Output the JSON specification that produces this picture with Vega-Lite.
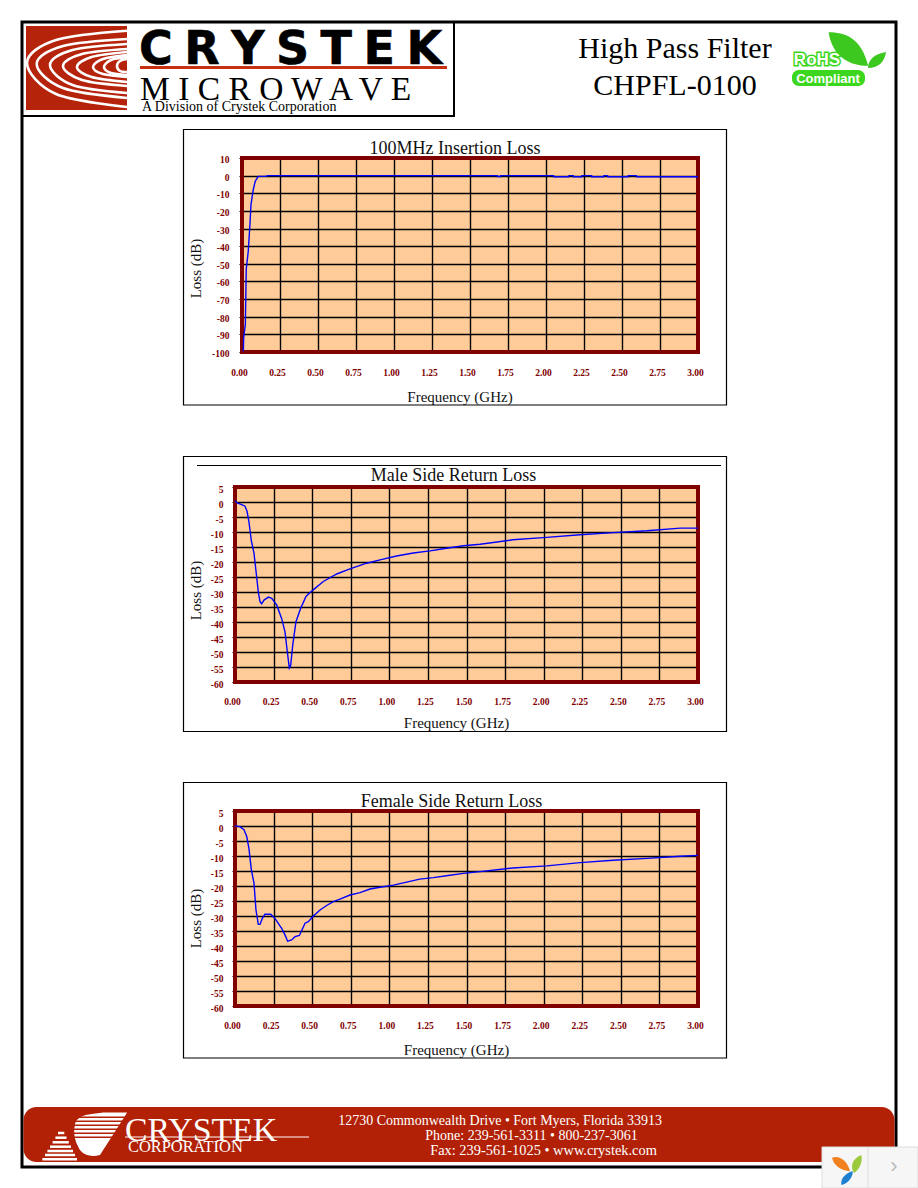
{"$schema":"https://vega.github.io/schema/vega-lite/v6.json","padding":0,"background":"white","bounds":"flush","spacing":0,"columns":2,"align":"each","config":{"view":{"stroke":null},"axis":{"labelFont":"Liberation Serif","labelFontWeight":"bold","labelFontSize":9.5,"labelColor":"#800000","titleFont":"Liberation Serif","titleFontWeight":"normal","titleFontSize":15,"titleColor":"#111111","grid":true,"gridColor":"#000000","gridWidth":1.4,"gridOpacity":1,"domain":false,"tickColor":"#000000","labelFlush":false,"labelOverlap":false},"title":{"font":"Liberation Serif","fontWeight":"normal","fontSize":18,"color":"#111111","anchor":"middle"}},"datasets":{"insertion":[{"f":0.009,"db":-99.6},{"f":0.011,"db":-92},{"f":0.015,"db":-89},{"f":0.022,"db":-84.5},{"f":0.028,"db":-53},{"f":0.041,"db":-43},{"f":0.052,"db":-28},{"f":0.059,"db":-16.5},{"f":0.074,"db":-8},{"f":0.087,"db":-3.2},{"f":0.107,"db":-0.4},{"f":0.161,"db":-0.4},{"f":0.165,"db":0},{"f":1.68,"db":0},{"f":1.681,"db":-0.5},{"f":1.70,"db":-0.5},{"f":1.701,"db":0},{"f":2.05,"db":0},{"f":2.051,"db":-0.6},{"f":2.15,"db":-0.6},{"f":2.151,"db":0},{"f":2.18,"db":0},{"f":2.181,"db":-0.6},{"f":2.235,"db":-0.6},{"f":2.236,"db":0},{"f":2.30,"db":0},{"f":2.301,"db":-0.6},{"f":2.38,"db":-0.6},{"f":2.381,"db":0},{"f":2.405,"db":0},{"f":2.406,"db":-0.6},{"f":2.54,"db":-0.6},{"f":2.541,"db":0},{"f":2.595,"db":0},{"f":2.596,"db":-0.6},{"f":3.0,"db":-0.6}],"male":[{"f":0,"db":0.4},{"f":0.015,"db":-0.3},{"f":0.043,"db":-0.9},{"f":0.065,"db":-1.4},{"f":0.078,"db":-3.1},{"f":0.09,"db":-6.5},{"f":0.106,"db":-13},{"f":0.123,"db":-17},{"f":0.136,"db":-23},{"f":0.151,"db":-30},{"f":0.162,"db":-33.2},{"f":0.173,"db":-33.9},{"f":0.188,"db":-32.7},{"f":0.216,"db":-31.7},{"f":0.238,"db":-32.1},{"f":0.27,"db":-34.3},{"f":0.302,"db":-38.8},{"f":0.324,"db":-43.3},{"f":0.339,"db":-50},{"f":0.352,"db":-55.3},{"f":0.361,"db":-54.4},{"f":0.374,"db":-47.7},{"f":0.395,"db":-39.9},{"f":0.425,"db":-35.5},{"f":0.46,"db":-31.5},{"f":0.497,"db":-29.7},{"f":0.572,"db":-26.5},{"f":0.659,"db":-24},{"f":0.745,"db":-22.3},{"f":0.853,"db":-20.4},{"f":0.94,"db":-19.3},{"f":1.047,"db":-18},{"f":1.155,"db":-17},{"f":1.264,"db":-16.3},{"f":1.37,"db":-15.4},{"f":1.48,"db":-14.6},{"f":1.588,"db":-14.1},{"f":1.80,"db":-12.6},{"f":2.02,"db":-11.8},{"f":2.236,"db":-10.9},{"f":2.45,"db":-10.2},{"f":2.67,"db":-9.6},{"f":2.885,"db":-8.7},{"f":3.0,"db":-8.7}],"female":[{"f":0,"db":0},{"f":0.032,"db":-0.2},{"f":0.058,"db":-1.2},{"f":0.076,"db":-3.5},{"f":0.09,"db":-7.4},{"f":0.106,"db":-14.6},{"f":0.123,"db":-19},{"f":0.136,"db":-28},{"f":0.151,"db":-32.8},{"f":0.162,"db":-32.8},{"f":0.177,"db":-30.8},{"f":0.194,"db":-29.4},{"f":0.231,"db":-29.4},{"f":0.259,"db":-30.8},{"f":0.302,"db":-34.1},{"f":0.324,"db":-36.3},{"f":0.341,"db":-38.4},{"f":0.367,"db":-38},{"f":0.389,"db":-36.9},{"f":0.417,"db":-36.5},{"f":0.454,"db":-32.4},{"f":0.475,"db":-31.9},{"f":0.508,"db":-30},{"f":0.551,"db":-28},{"f":0.594,"db":-26.5},{"f":0.637,"db":-25.2},{"f":0.68,"db":-24.4},{"f":0.745,"db":-23},{"f":0.81,"db":-22.2},{"f":0.875,"db":-21},{"f":0.94,"db":-20.4},{"f":1.026,"db":-19.7},{"f":1.112,"db":-18.7},{"f":1.197,"db":-17.7},{"f":1.285,"db":-17.2},{"f":1.37,"db":-16.6},{"f":1.48,"db":-15.8},{"f":1.588,"db":-15.2},{"f":1.80,"db":-14},{"f":2.02,"db":-13.3},{"f":2.236,"db":-12.2},{"f":2.45,"db":-11.4},{"f":2.67,"db":-10.8},{"f":2.885,"db":-10.1},{"f":3.0,"db":-9.8}],"swoosh":[{"b":1,"i":0,"px":127,"py":30.7},{"b":1,"i":1,"px":56,"py":40},{"b":1,"i":2,"px":27,"py":63},{"b":1,"i":3,"px":56,"py":94},{"b":1,"i":4,"px":127,"py":107},{"b":2,"i":0,"px":127,"py":39},{"b":2,"i":1,"px":63,"py":46},{"b":2,"i":2,"px":36.7,"py":64},{"b":2,"i":3,"px":63,"py":88},{"b":2,"i":4,"px":127,"py":98},{"b":3,"i":0,"px":127,"py":44},{"b":3,"i":1,"px":72.6,"py":50},{"b":3,"i":2,"px":50,"py":65},{"b":3,"i":3,"px":72.6,"py":85},{"b":3,"i":4,"px":127,"py":93},{"b":4,"i":0,"px":127,"py":49},{"b":4,"i":1,"px":82,"py":54},{"b":4,"i":2,"px":63,"py":66},{"b":4,"i":3,"px":82,"py":80},{"b":4,"i":4,"px":127,"py":86},{"b":5,"i":0,"px":127,"py":52},{"b":5,"i":1,"px":91.6,"py":57},{"b":5,"i":2,"px":77,"py":67},{"b":5,"i":3,"px":91.6,"py":77},{"b":5,"i":4,"px":127,"py":82},{"b":6,"i":0,"px":127,"py":55},{"b":6,"i":1,"px":103,"py":59},{"b":6,"i":2,"px":93,"py":67},{"b":6,"i":3,"px":103,"py":74},{"b":6,"i":4,"px":127,"py":77},{"b":7,"i":0,"px":127,"py":57},{"b":7,"i":1,"px":111,"py":60},{"b":7,"i":2,"px":104,"py":67},{"b":7,"i":3,"px":111,"py":73},{"b":7,"i":4,"px":127,"py":75},{"b":8,"i":0,"px":127,"py":59},{"b":8,"i":1,"px":120,"py":61},{"b":8,"i":2,"px":117,"py":66},{"b":8,"i":3,"px":120,"py":71},{"b":8,"i":4,"px":127,"py":72}],"triStripes":[{"a":58,"c":64.3,"py":1133},{"a":55.4,"c":66.5,"py":1137.7},{"a":52.6,"c":68.8,"py":1142.3},{"a":50,"c":71,"py":1146.7},{"a":47.4,"c":73,"py":1151},{"a":45,"c":75,"py":1155},{"a":42.4,"c":77,"py":1159.3}],"cutStripes":[{"a":70,"c":130,"py":1117.3},{"a":70,"c":130,"py":1121.3},{"a":70,"c":130,"py":1125.3},{"a":70,"c":130,"py":1129.3},{"a":70,"c":130,"py":1133.3},{"a":70,"c":130,"py":1137.3}]},"concat":[{"width":235,"height":158,"data":{"values":[{}]},"layer":[{"mark":{"type":"rect","fill":"white"},"encoding":{"x":{"datum":0,"type":"quantitative","axis":null,"scale":{"domain":[0,235],"range":[0,235],"nice":false,"zero":false}},"x2":{"datum":918},"y":{"datum":0,"type":"quantitative","axis":null,"scale":{"domain":[0,158],"range":[0,158],"nice":false,"zero":false}},"y2":{"datum":1188}}},{"mark":{"type":"rect","filled":false,"stroke":"#000000","strokeWidth":3},"encoding":{"x":{"datum":22,"axis":null},"x2":{"datum":896},"y":{"datum":22,"axis":null},"y2":{"datum":1167}}},{"mark":{"type":"rule","stroke":"#000000","strokeWidth":2},"encoding":{"x":{"datum":454,"axis":null},"y":{"datum":22,"axis":null},"y2":{"datum":117}}},{"mark":{"type":"rule","stroke":"#000000","strokeWidth":2},"encoding":{"x":{"datum":22,"axis":null},"x2":{"datum":454},"y":{"datum":116,"axis":null}}},{"mark":{"type":"rect","fill":"#B5230A"},"encoding":{"x":{"datum":26,"axis":null},"x2":{"datum":127},"y":{"datum":26,"axis":null},"y2":{"datum":110}}},{"data":{"name":"swoosh"},"mark":{"type":"line","stroke":"#ffffff","strokeWidth":2.6,"interpolate":"cardinal"},"encoding":{"x":{"field":"px","type":"quantitative","axis":null},"y":{"field":"py","type":"quantitative","axis":null},"detail":{"field":"b"},"order":{"field":"i"}}},{"mark":{"type":"text","text":"C\u2005R\u2005Y\u2005S\u2005T\u2005E\u2005K","font":"DejaVu Sans","fontWeight":"bold","fontSize":46,"align":"left","baseline":"alphabetic","fill":"#000000","stroke":"#000000","strokeWidth":0.6},"encoding":{"x":{"datum":139,"axis":null},"y":{"datum":64,"axis":null}}},{"mark":{"type":"rect","fill":"#C8300F"},"encoding":{"x":{"datum":140,"axis":null},"x2":{"datum":447},"y":{"datum":66,"axis":null},"y2":{"datum":69}}},{"mark":{"type":"text","text":"M I C R O W A V E","font":"Liberation Serif","fontSize":33.5,"align":"left","baseline":"alphabetic","fill":"#000000"},"encoding":{"x":{"datum":140,"axis":null},"y":{"datum":100,"axis":null}}},{"mark":{"type":"text","text":"A Division of Crystek Corporation","font":"Liberation Serif","fontSize":14,"align":"left","baseline":"alphabetic","fill":"#000000"},"encoding":{"x":{"datum":142,"axis":null},"y":{"datum":111,"axis":null}}},{"mark":{"type":"text","text":"High Pass Filter","font":"Liberation Serif","fontSize":30,"align":"center","baseline":"alphabetic","fill":"#000000"},"encoding":{"x":{"datum":675,"axis":null},"y":{"datum":58,"axis":null}}},{"mark":{"type":"text","text":"CHPFL-0100","font":"Liberation Serif","fontSize":30,"align":"center","baseline":"alphabetic","fill":"#000000"},"encoding":{"x":{"datum":675,"axis":null},"y":{"datum":95,"axis":null}}},{"mark":{"type":"point","filled":true,"fill":"#3CC81E","opacity":1,"size":2304,"shape":"M-0.85,-0.7 C-0.2,-0.7 0.5,-0.5 0.8,0.7 C0,0.7 -0.7,0.3 -0.85,-0.7 Z"},"encoding":{"x":{"datum":849,"axis":null},"y":{"datum":49,"axis":null}}},{"mark":{"type":"point","filled":true,"fill":"#3CC81E","opacity":1,"size":400,"shape":"M-0.9,0.8 C-0.9,0 -0.3,-0.6 0.9,-0.8 C0.8,0.1 0.2,0.8 -0.9,0.8 Z"},"encoding":{"x":{"datum":877,"axis":null},"y":{"datum":60,"axis":null}}},{"mark":{"type":"text","text":"RoHS","font":"Liberation Sans","fontWeight":"bold","fontSize":17,"align":"center","baseline":"alphabetic","fill":"#ffffff","stroke":"#3CD61E","strokeWidth":3},"encoding":{"x":{"datum":817,"axis":null},"y":{"datum":65,"axis":null}}},{"mark":{"type":"text","text":"RoHS","font":"Liberation Sans","fontWeight":"bold","fontSize":17,"align":"center","baseline":"alphabetic","fill":"#ffffff"},"encoding":{"x":{"datum":817,"axis":null},"y":{"datum":65,"axis":null}}},{"mark":{"type":"rect","fill":"#3CD61E","cornerRadius":7},"encoding":{"x":{"datum":792,"axis":null},"x2":{"datum":865},"y":{"datum":70,"axis":null},"y2":{"datum":86}}},{"mark":{"type":"text","text":"Compliant","font":"Liberation Sans","fontWeight":"bold","fontSize":13,"align":"center","baseline":"alphabetic","fill":"#ffffff"},"encoding":{"x":{"datum":828,"axis":null},"y":{"datum":83,"axis":null}}},{"mark":{"type":"rect","fill":"#ffffff","stroke":"#000000","strokeWidth":1.2},"encoding":{"x":{"datum":183.5,"axis":null},"x2":{"datum":726.5},"y":{"datum":129.5,"axis":null},"y2":{"datum":405}}},{"mark":{"type":"rect","fill":"#FFCC99"},"encoding":{"x":{"datum":242,"axis":null},"x2":{"datum":698},"y":{"datum":158,"axis":null},"y2":{"datum":352}}},{"mark":{"type":"rect","fill":"#ffffff","stroke":"#000000","strokeWidth":1.2},"encoding":{"x":{"datum":183.5,"axis":null},"x2":{"datum":726.5},"y":{"datum":456.5,"axis":null},"y2":{"datum":731.5}}},{"mark":{"type":"rect","fill":"#ffffff","stroke":"#000000","strokeWidth":1.2},"encoding":{"x":{"datum":183.5,"axis":null},"x2":{"datum":726.5},"y":{"datum":782.5,"axis":null},"y2":{"datum":1058}}},{"mark":{"type":"rule","stroke":"#000000","strokeWidth":1},"encoding":{"x":{"datum":197,"axis":null},"x2":{"datum":721},"y":{"datum":465.5,"axis":null}}},{"mark":{"type":"rect","fill":"#B22106","cornerRadius":13},"encoding":{"x":{"datum":23.5,"axis":null},"x2":{"datum":894.5},"y":{"datum":1107,"axis":null},"y2":{"datum":1162}}},{"mark":{"type":"point","filled":true,"fill":"#ffffff","opacity":1,"size":3211,"shape":"M0.96,-0.79 L0,0.71 Q-0.47,0.82 -0.71,0.53 Q-1,0.06 -0.88,-0.41 Q-0.76,-0.71 -0.29,-0.74 L0.12,-0.79 Z"},"encoding":{"x":{"datum":100,"axis":null},"y":{"datum":1135,"axis":null}}},{"data":{"name":"cutStripes"},"mark":{"type":"rule","stroke":"#B22106","strokeWidth":1.6},"encoding":{"x":{"field":"a","type":"quantitative","axis":null},"x2":{"field":"c"},"y":{"field":"py","type":"quantitative","axis":null}}},{"data":{"name":"triStripes"},"mark":{"type":"rule","stroke":"#ffffff","strokeWidth":2.5},"encoding":{"x":{"field":"a","type":"quantitative","axis":null},"x2":{"field":"c"},"y":{"field":"py","type":"quantitative","axis":null}}},{"mark":{"type":"text","text":"CRYSTEK","font":"Liberation Serif","fontSize":33.8,"align":"left","baseline":"alphabetic","fill":"#ffffff"},"encoding":{"x":{"datum":125,"axis":null},"y":{"datum":1141,"axis":null}}},{"mark":{"type":"rule","stroke":"#ffffff","strokeWidth":1},"encoding":{"x":{"datum":125,"axis":null},"x2":{"datum":309},"y":{"datum":1137,"axis":null}}},{"mark":{"type":"text","text":"CORPORATION","font":"Liberation Serif","fontSize":16.4,"align":"left","baseline":"alphabetic","fill":"#ffffff"},"encoding":{"x":{"datum":128,"axis":null},"y":{"datum":1152,"axis":null}}},{"mark":{"type":"text","text":"12730 Commonwealth Drive • Fort Myers, Florida 33913","font":"Liberation Serif","fontSize":14,"align":"center","baseline":"alphabetic","fill":"#ffffff"},"encoding":{"x":{"datum":500,"axis":null},"y":{"datum":1125,"axis":null}}},{"mark":{"type":"text","text":"Phone: 239-561-3311 • 800-237-3061","font":"Liberation Serif","fontSize":14,"align":"center","baseline":"alphabetic","fill":"#ffffff"},"encoding":{"x":{"datum":531.5,"axis":null},"y":{"datum":1140,"axis":null}}},{"mark":{"type":"text","text":"Fax: 239-561-1025 • www.crystek.com","font":"Liberation Serif","fontSize":14.4,"align":"center","baseline":"alphabetic","fill":"#ffffff"},"encoding":{"x":{"datum":543.5,"axis":null},"y":{"datum":1155,"axis":null}}},{"mark":{"type":"rect","fill":"#F6F6F6","stroke":"#DDDDDD","strokeWidth":1},"encoding":{"x":{"datum":822,"axis":null},"x2":{"datum":918},"y":{"datum":1147,"axis":null},"y2":{"datum":1188}}},{"mark":{"type":"rule","stroke":"#DDDDDD","strokeWidth":1},"encoding":{"x":{"datum":868,"axis":null},"y":{"datum":1147,"axis":null},"y2":{"datum":1188}}},{"mark":{"type":"point","filled":true,"fill":"#F08020","opacity":1,"size":324,"shape":"M-1,-0.7 C-0.2,-1 0.7,-0.4 1,0.8 C0,0.7 -0.8,0.2 -1,-0.7 Z"},"encoding":{"x":{"datum":841,"axis":null},"y":{"datum":1164,"axis":null}}},{"mark":{"type":"point","filled":true,"fill":"#9CC83C","opacity":1,"size":324,"shape":"M0.7,-1 C0.9,-0.3 0.5,0.6 -0.1,1 C-0.6,0.3 -0.3,-0.6 0.7,-1 Z"},"encoding":{"x":{"datum":855,"axis":null},"y":{"datum":1164,"axis":null}}},{"mark":{"type":"point","filled":true,"fill":"#2080D0","opacity":1,"size":196,"shape":"M0.8,-1 C0.9,-0.2 0.2,0.8 -0.8,1 C-1,0.1 -0.2,-0.7 0.8,-1 Z"},"encoding":{"x":{"datum":847,"axis":null},"y":{"datum":1178,"axis":null}}},{"mark":{"type":"text","text":"›","font":"Liberation Sans","fontSize":22,"align":"center","baseline":"middle","fill":"#BBBBBB"},"encoding":{"x":{"datum":894,"axis":null},"y":{"datum":1166,"axis":null}}}]},{"width":1,"height":158,"data":{"values":[{}]},"mark":{"type":"point","opacity":0},"encoding":{}},{"width":235,"height":329,"data":{"values":[{}]},"mark":{"type":"point","opacity":0},"encoding":{}},{"width":463,"height":194,"title":{"text":"100MHz Insertion Loss","dx":-11.5,"offset":-3},"data":{"name":"insertion"},"layer":[{"mark":{"type":"rect","filled":false,"stroke":"#800000","strokeWidth":4},"encoding":{"x":{"datum":0,"type":"quantitative","title":"Frequency (GHz)","scale":{"domain":[0,3],"range":[7,463],"nice":false,"zero":false},"axis":{"values":[0,0.25,0.5,0.75,1,1.25,1.5,1.75,2,2.25,2.5,2.75,3],"tickCount":30,"format":".2f","tickSize":0,"labelPadding":15,"labelOffset":-3,"titleX":224.5,"titleY":37.5}},"x2":{"datum":3},"y":{"datum":10,"type":"quantitative","title":"Loss (dB)","scale":{"domain":[-100,10],"nice":false,"zero":false},"axis":{"values":[10,0,-10,-20,-30,-40,-50,-60,-70,-80,-90,-100],"tickCount":30,"labelExpr":"'' + datum.value","offset":-7,"tickSize":3,"labelPadding":10,"labelOffset":1.5,"titleX":-39,"titleY":110}},"y2":{"datum":-100}}},{"mark":{"type":"line","stroke":"#0000FF","strokeWidth":1.4,"interpolate":"linear"},"encoding":{"x":{"field":"f","type":"quantitative","title":"Frequency (GHz)"},"y":{"field":"db","type":"quantitative","title":"Loss (dB)"}}}]},{"width":235,"height":324,"data":{"values":[{}]},"mark":{"type":"point","opacity":0},"encoding":{}},{"width":463,"height":195,"view":{"fill":"#FFCC99","stroke":null},"title":{"text":"Male Side Return Loss","dx":-13,"offset":-1},"data":{"name":"male"},"layer":[{"mark":{"type":"rect","filled":false,"stroke":"#800000","strokeWidth":4},"encoding":{"x":{"datum":0,"type":"quantitative","title":"Frequency (GHz)","scale":{"domain":[0,3],"nice":false,"zero":false},"axis":{"values":[0,0.25,0.5,0.75,1,1.25,1.5,1.75,2,2.25,2.5,2.75,3],"tickCount":30,"format":".2f","tickSize":0,"labelPadding":14,"labelOffset":-3,"titleX":221,"titleY":33.5}},"x2":{"datum":3},"y":{"datum":5,"type":"quantitative","title":"Loss (dB)","scale":{"domain":[-60,5],"nice":false,"zero":false},"axis":{"values":[5,0,-5,-10,-15,-20,-25,-30,-35,-40,-45,-50,-55,-60],"tickCount":30,"labelExpr":"'' + datum.value","tickSize":3,"labelPadding":9,"labelOffset":2,"titleX":-32,"titleY":103}},"y2":{"datum":-60}}},{"mark":{"type":"line","stroke":"#0000FF","strokeWidth":1.4,"interpolate":"linear"},"encoding":{"x":{"field":"f","type":"quantitative","title":"Frequency (GHz)"},"y":{"field":"db","type":"quantitative","title":"Loss (dB)"}}}]},{"width":235,"height":195,"data":{"values":[{}]},"mark":{"type":"point","opacity":0},"encoding":{}},{"width":463,"height":195,"view":{"fill":"#FFCC99","stroke":null},"title":{"text":"Female Side Return Loss","dx":-15,"offset":-3},"data":{"name":"female"},"layer":[{"mark":{"type":"rect","filled":false,"stroke":"#800000","strokeWidth":4},"encoding":{"x":{"datum":0,"type":"quantitative","title":"Frequency (GHz)","scale":{"domain":[0,3],"nice":false,"zero":false},"axis":{"values":[0,0.25,0.5,0.75,1,1.25,1.5,1.75,2,2.25,2.5,2.75,3],"tickCount":30,"format":".2f","tickSize":0,"labelPadding":14,"labelOffset":-3,"titleX":221,"titleY":36.5}},"x2":{"datum":3},"y":{"datum":5,"type":"quantitative","title":"Loss (dB)","scale":{"domain":[-60,5],"nice":false,"zero":false},"axis":{"values":[5,0,-5,-10,-15,-20,-25,-30,-35,-40,-45,-50,-55,-60],"tickCount":30,"labelExpr":"'' + datum.value","tickSize":3,"labelPadding":9,"labelOffset":2,"titleX":-32,"titleY":107}},"y2":{"datum":-60}}},{"mark":{"type":"line","stroke":"#0000FF","strokeWidth":1.4,"interpolate":"linear"},"encoding":{"x":{"field":"f","type":"quantitative","title":"Frequency (GHz)"},"y":{"field":"db","type":"quantitative","title":"Loss (dB)"}}}]}]}
